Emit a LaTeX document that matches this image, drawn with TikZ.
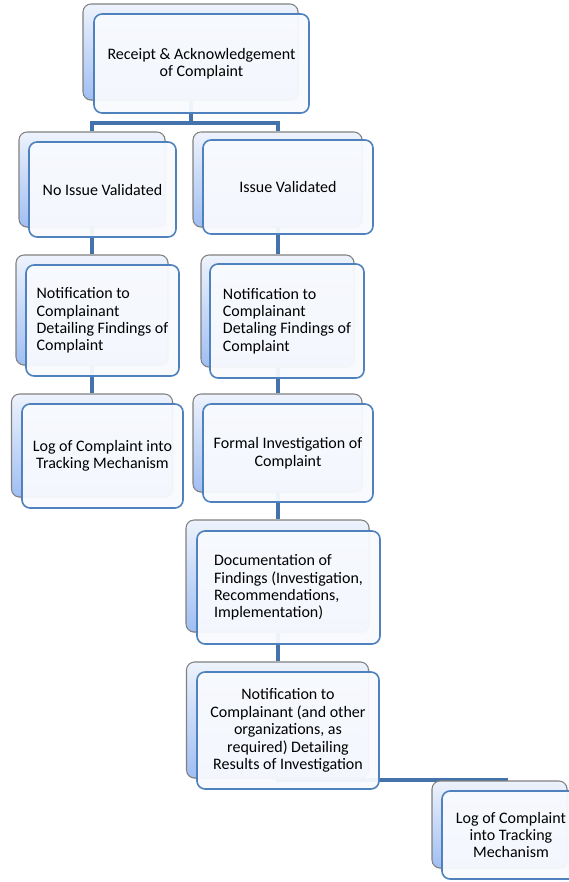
\documentclass[tikz,border=0pt]{standalone}
\usepackage{fontspec}
\setmainfont{Carlito}
\usetikzlibrary{backgrounds,shadows}

\definecolor{linkblue}{RGB}{68,114,170}
\definecolor{cardedge}{RGB}{79,129,189}
\definecolor{backedge}{RGB}{128,128,128}
\definecolor{backtop}{RGB}{238,243,252}
\definecolor{backbot}{RGB}{160,190,243}
\definecolor{cardfill}{RGB}{248,250,254}

\begin{document}
\begin{tikzpicture}[x=0.75pt, y=-0.75pt,
        box/.style 2 args={minimum width=#1*0.75pt, minimum height=#2*0.75pt},
        backcard/.style={rectangle, rounded corners=6pt, draw=backedge, line width=0.8pt,
            top color=backtop, bottom color=backbot, inner sep=0pt,
            drop shadow={opacity=0.2, shadow xshift=1pt, shadow yshift=-1pt}},
        card/.style={rectangle, rounded corners=6pt, draw=cardedge, line width=1.2pt,
            fill=cardfill, fill opacity=0.95, text opacity=1, inner sep=6pt,
            font=\fontsize{12}{13.1}\selectfont, align=center},
        link/.style={draw=linkblue, line width=3pt}]
        \useasboundingbox (0,0) rectangle (568,882);

        % Nodes
        \node[backcard, box={215}{96}] (recB) at (190.5,52) {};
        \node[card, box={215}{99}] (rec) at (201.5,63.5) {Receipt \& Acknowledgement\\of Complaint};

        \node[backcard, box={146}{95}] (novalB) at (92,179.5) {};
        \node[card, box={147}{95}] (noval) at (102.5,189.5) {No Issue Validated};

        \node[backcard, box={169}{95}] (valB) at (277.5,179.5) {};
        \node[card, box={170}{94}] (val) at (288,187) {Issue Validated};

        \node[backcard, box={152}{110}] (ntflB) at (92,310) {};
        \node[card, box={153}{111}, align=left] (ntfl) at (102.5,320.5) {Notification to\\Complainant\\Detailing Findings of\\Complaint};

        \node[backcard, box={153}{112}] (ntfrB) at (277.5,311) {};
        \node[card, box={154}{114}, align=left] (ntfr) at (287,321) {Notification to\\Complainant\\Detaling Findings of\\Complaint};

        \node[backcard, box={161}{103}] (loglB) at (92,445.5) {};
        \node[card, box={161}{104}] (logl) at (102.5,456) {Log of Complaint into\\Tracking Mechanism};

        \node[backcard, box={169}{98}] (invB) at (277.5,443) {};
        \node[card, box={170}{98}] (inv) at (288,453) {Formal Investigation of\\Complaint};

        \node[backcard, box={183}{112}] (docB) at (277.5,576) {};
        \node[card, box={183}{113}, align=left] (doc) at (288.5,587.5) {Documentation of\\Findings (Investigation,\\Recommendations,\\Implementation)};

        \node[backcard, box={182}{116}] (ntfB) at (277.5,720) {};
        \node[card, box={182}{117}] (ntf) at (288,730.5) {Notification to\\Complainant (and other\\organizations, as\\required) Detailing\\Results of Investigation};

        \node[backcard, box={135}{87}] (logrB) at (499.5,824.5) {};
        \node[card, box={138}{88}] (logr) at (511,835) {Log of Complaint\\into Tracking\\Mechanism};

        % Edges
        \begin{scope}[on background layer]
            \draw[link] (recB) -- (recB |- 0,123) -| (novalB);
            \draw[link] (recB |- 0,123) -| (valB);
            \draw[link] (novalB) -- (ntflB);
            \draw[link] (ntflB) -- (loglB);
            \draw[link] (valB) -- (ntfrB);
            \draw[link] (ntfrB) -- (invB);
            \draw[link] (invB) -- (docB);
            \draw[link] (docB) -- (ntfB);
            \draw[link] (ntfB) |- ([xshift=6pt]logrB.north);
        \end{scope}
    \end{tikzpicture}
\end{document}
